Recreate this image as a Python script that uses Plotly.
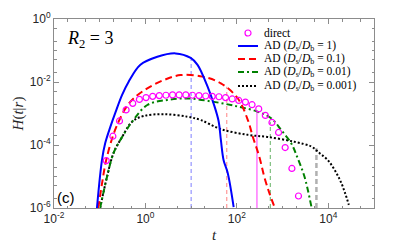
import plotly.graph_objects as go

# ---------------- data ----------------
direct_t = [0.139, 0.194, 0.271, 0.378, 0.528, 0.738, 1.03, 1.44, 2.01, 2.81,
            3.92, 5.47, 7.64, 10.7, 14.9, 20.8, 29.0, 40.6, 56.6, 79.1,
            110, 154, 215, 301, 420, 586, 818, 1140, 1600, 2230]
direct_H = [3.2e-5, 1.9e-4, 5.8e-4, 1.3e-3, 2.1e-3, 2.8e-3, 3.2e-3, 3.5e-3, 3.7e-3, 3.8e-3,
            3.9e-3, 3.9e-3, 3.9e-3, 3.8e-3, 3.7e-3, 3.6e-3, 3.5e-3, 3.4e-3, 3.2e-3, 2.9e-3,
            2.6e-3, 2.3e-3, 1.9e-3, 1.4e-3, 8.7e-4, 5.2e-4, 2.5e-4, 8.3e-5, 1.8e-5, 2.4e-6]

ad1_t = [0.087, 0.112, 0.132, 0.170, 0.219, 0.309, 0.427, 0.776, 1.82, 4.57,
         9.77, 13.8, 22.9, 30.9, 39.8, 44.7, 51.3, 63.1, 85.1]
ad1_H = [1.0e-6, 3.3e-5, 1.15e-4, 3.7e-4, 1.05e-3, 3.9e-3, 1.0e-2, 3.5e-2, 6.3e-2, 8.1e-2,
         5.8e-2, 3.5e-2, 7.1e-3, 2.1e-3, 5.8e-4, 1.45e-4, 3.3e-5, 1.3e-5, 1.07e-6]

ad01_t = [0.093, 0.112, 0.138, 0.195, 0.269, 0.380, 0.550, 1.10, 2.51, 5.89,
          17.8, 44.7, 105, 174, 224, 309, 398, 513, 661]
ad01_H = [1.0e-6, 5.8e-6, 3.2e-5, 1.95e-4, 6.2e-4, 1.6e-3, 3.0e-3, 6.3e-3, 1.15e-2, 1.66e-2,
          1.48e-2, 9.1e-3, 3.0e-3, 6.2e-4, 1.8e-4, 4.3e-5, 9.8e-6, 3.0e-6, 1.1e-6]

ad001_t = [0.102, 0.145, 0.200, 0.309, 0.513, 1.10, 3.02, 8.32, 31.6, 105,
           282, 562, 933, 1550, 2140, 3020, 4270]
ad001_H = [1.0e-6, 1.0e-5, 5.5e-5, 1.8e-4, 5.5e-4, 1.86e-3, 2.7e-3, 3.0e-3, 2.34e-3, 1.66e-3,
           1.15e-3, 7.1e-4, 3.0e-4, 1.12e-4, 3.8e-5, 9.8e-6, 1.1e-6]

ad0001_t = [0.102, 0.145, 0.200, 0.309, 0.513, 0.912, 2.51, 8.32, 16.2, 44.7,
            174, 468, 1820, 4270, 6460, 9770, 13800, 19500, 28200]
ad0001_H = [1.0e-6, 1.0e-5, 5.5e-5, 1.8e-4, 5.5e-4, 8.3e-4, 9.5e-4, 7.9e-4, 6.2e-4, 3.2e-4,
            2.1e-4, 1.8e-4, 1.26e-4, 8.9e-5, 5.5e-5, 3.3e-5, 1.6e-5, 6.0e-6, 1.26e-6]

# mean times (vertical markers) and the curve height they reach
mean_t = [10, 60, 275, 540, 5500]
mean_H = [0.07, 7.1e-3, 1.2e-3, 5.5e-4, 7.9e-5]
H_floor = 1e-6

legend_names = ["direct",
                "AD (<i>D</i><sub>s</sub>/<i>D</i><sub>b</sub> = 1)",
                "AD (<i>D</i><sub>s</sub>/<i>D</i><sub>b</sub> = 0.1)",
                "AD (<i>D</i><sub>s</sub>/<i>D</i><sub>b</sub> = 0.01)",
                "AD (<i>D</i><sub>s</sub>/<i>D</i><sub>b</sub> = 0.001)"]

x_tickvals = [1e-2, 1e0, 1e2, 1e4]
x_ticktext = ["10<sup>-2</sup>", "10<sup>0</sup>", "10<sup>2</sup>", "10<sup>4</sup>"]
y_tickvals = [1e-6, 1e-4, 1e-2, 1e0]
y_ticktext = ["10<sup>-6</sup>", "10<sup>-4</sup>", "10<sup>-2</sup>", "10<sup>0</sup>"]

# ---------------- styles ----------------
MAGENTA = "#ff00ff"
line_styles = [  # (color, dash, width) for AD curves, in legend order
    ("#0000ff", "solid", 2),
    ("#ff0000", "7px,4px", 2),
    ("#008000", "6px,3px,2px,3px", 2),
    ("#000000", "2px,2px", 2),
]
vline_styles = [("#7f7fff", "4px,3px", 1), ("#ff9f9f", "4px,3px", 1.3), ("#ff55ff", "solid", 1.2),
                ("#7fbf7f", "4px,3px", 1.2), ("#b0b0b0", "5px,3px", 2.5)]

# ---------------- figure ----------------
fig = go.Figure()

for tm, hm, (c, d, w) in zip(mean_t, mean_H, vline_styles):
    fig.add_trace(go.Scatter(x=[tm, tm], y=[H_floor, hm], mode="lines",
                             line=dict(color=c, dash=d, width=w),
                             showlegend=False, hoverinfo="skip"))

curves = [(ad1_t, ad1_H), (ad01_t, ad01_H), (ad001_t, ad001_H), (ad0001_t, ad0001_H)]
# draw the 0.001 curve first so that it sits below the others where they overlap
for i in [3, 2, 1, 0]:
    t, H = curves[i]
    c, d, w = line_styles[i]
    fig.add_trace(go.Scatter(x=t, y=H, mode="lines", name=legend_names[i + 1],
                             line=dict(color=c, dash=d, width=w, shape="spline"),
                             showlegend=False))
fig.add_trace(go.Scatter(x=direct_t, y=direct_H, mode="markers", name=legend_names[0],
                         marker=dict(symbol="circle-open", color=MAGENTA, size=6,
                                     line=dict(width=1.2, color=MAGENTA)),
                         showlegend=False))

# ---------------- compact legend (MATLAB-like spacing) ----------------
leg_rows_y = [0.926, 0.857, 0.788, 0.720, 0.646]
leg_x0, leg_x1, leg_xt = 0.575, 0.6375, 0.65
leg_font = dict(family="Liberation Serif, Times New Roman", size=11.5, color="black")
fig.add_shape(type="circle", xref="paper", yref="paper", xsizemode="pixel", ysizemode="pixel",
              xanchor=(leg_x0 + leg_x1) / 2, yanchor=leg_rows_y[0], x0=-3, x1=3, y0=-3, y1=3,
              line=dict(color=MAGENTA, width=1.2))
for k in range(4):
    c, d, w = line_styles[k]
    fig.add_shape(type="line", xref="paper", yref="paper", x0=leg_x0, x1=leg_x1,
                  y0=leg_rows_y[k + 1], y1=leg_rows_y[k + 1], line=dict(color=c, dash=d, width=w))
for k, name in enumerate(legend_names):
    fig.add_annotation(x=leg_xt, y=leg_rows_y[k], xref="paper", yref="paper",
                       xanchor="left", yanchor="middle", text=name, showarrow=False,
                       font=leg_font)

axis_common = dict(type="log", showline=True, linecolor="#8c8c8c", linewidth=1,
                   mirror="allticks", ticks="inside", ticklen=5, tickcolor="#8c8c8c",
                   showgrid=False, zeroline=False, automargin=False,
                   tickfont=dict(family="Liberation Sans, Arial", size=12, color="#262626"),
                   minor=dict(ticks="inside", ticklen=2.5, tickcolor="#8c8c8c", showgrid=False))

fig.update_xaxes(range=[-2, 5], tickvals=x_tickvals, ticktext=x_ticktext,
                 title=dict(text="<i>t</i>", standoff=4,
                            font=dict(family="Liberation Serif, Times New Roman", size=15, color="#262626")),
                 **axis_common)
fig.update_yaxes(range=[-6, 0], tickvals=y_tickvals, ticktext=y_ticktext,
                 title=dict(text="<i>H</i>(<i>t</i>|<i>r</i>)", standoff=2,
                            font=dict(family="Liberation Serif, Times New Roman", size=15, color="#262626")),
                 **axis_common)

fig.add_annotation(x=0.035, y=0.889, xref="paper", yref="paper", xanchor="left", yanchor="middle",
                   text="<i>R</i><sub>2</sub> = 3", showarrow=False,
                   font=dict(family="Liberation Serif, Times New Roman", size=18, color="black"))
fig.add_annotation(x=0.004, y=0.055, xref="paper", yref="paper", xanchor="left", yanchor="middle",
                   text="(c)", showarrow=False,
                   font=dict(family="Liberation Sans, Arial", size=15, color="black"))

fig.update_layout(
    width=414, height=249,
    margin=dict(l=54, r=40, t=19, b=41),
    paper_bgcolor="white", plot_bgcolor="white",
    showlegend=False,
)

fig.write_html("out.html", config={"displayModeBar": False},
               post_script="document.body.style.margin='0';document.body.style.overflow='hidden';")
